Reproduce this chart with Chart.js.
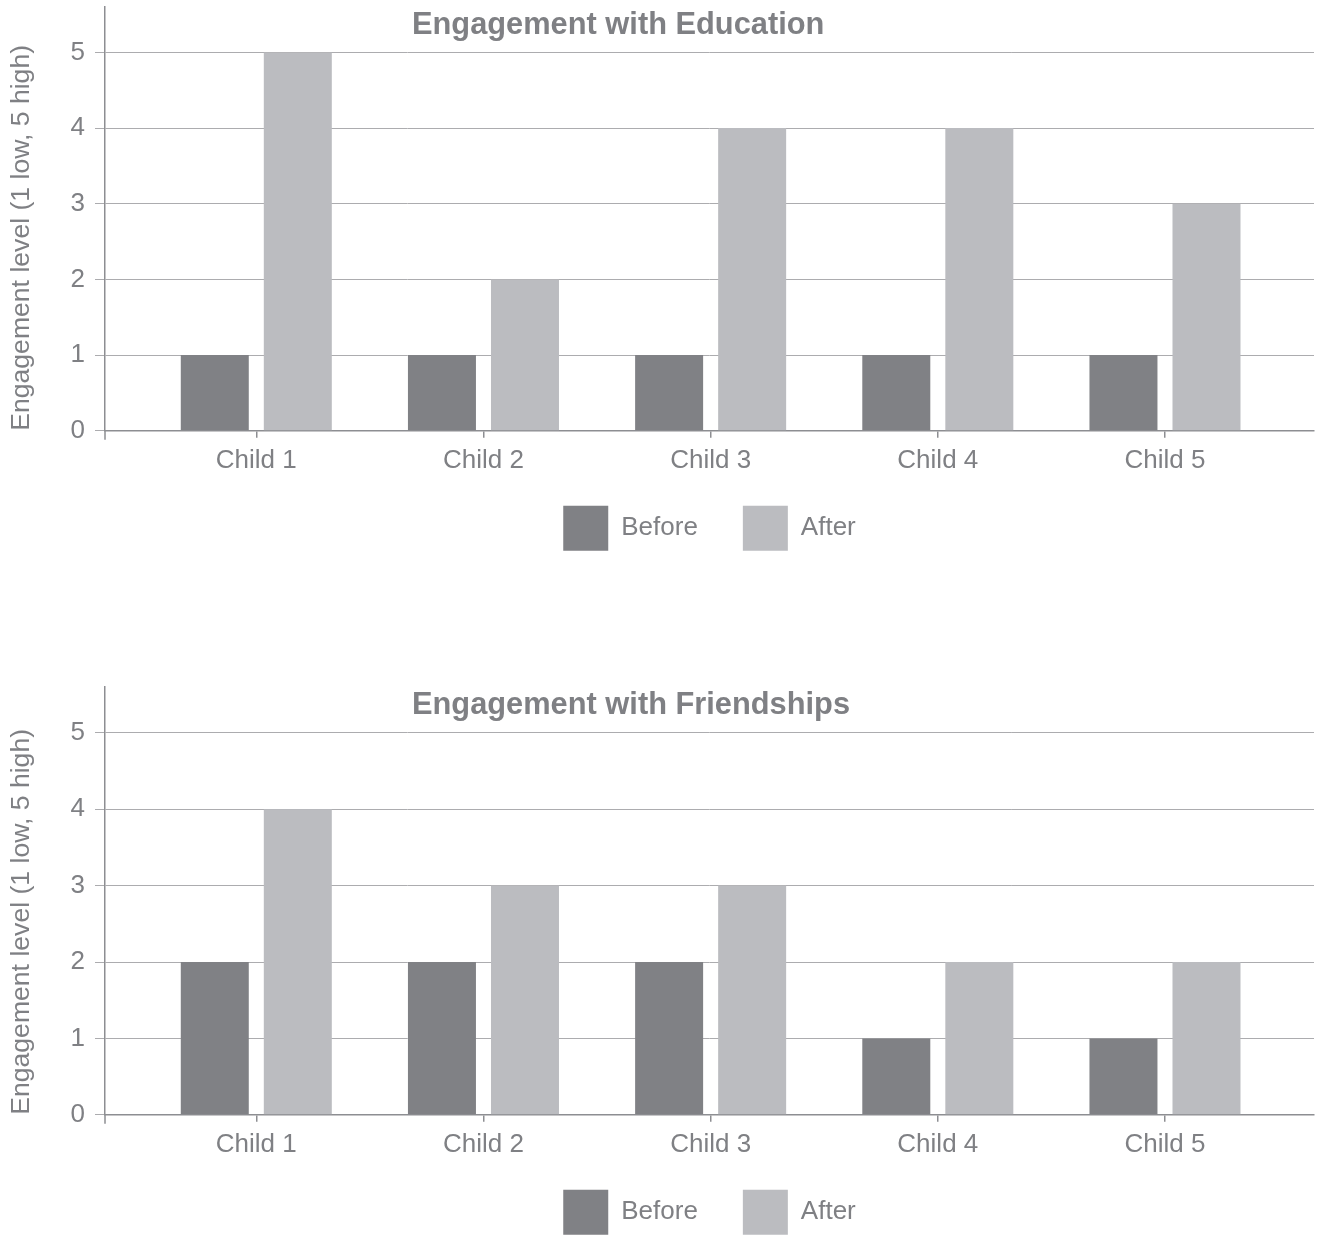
<!DOCTYPE html>
<html>
<head>
<meta charset="utf-8">
<title>Engagement before and after</title>
<script src="https://cdn.jsdelivr.net/npm/chart.js@4.4.1/dist/chart.umd.min.js"></script>
<style>
  html, body { margin: 0; padding: 0; background: #ffffff; overflow: hidden; }
  .panel { position: absolute; left: 0; width: 1317px; }
  #panel-education { top: 0; height: 583px; }
  #panel-friendships { top: 680px; height: 587px; }
</style>
</head>
<body>
<div class="panel" id="panel-education"><canvas id="chart-education"></canvas></div>
<div class="panel" id="panel-friendships"><canvas id="chart-friendships"></canvas></div>
<script>
// ---- data ----
const children = ['Child 1', 'Child 2', 'Child 3', 'Child 4', 'Child 5'];
const seriesNames = ['Before', 'After'];
const educationBefore = [1, 1, 1, 1, 1];
const educationAfter = [5, 2, 4, 4, 3];
const friendshipsBefore = [2, 2, 2, 1, 1];
const friendshipsAfter = [4, 3, 3, 2, 2];
const levelTicks = [0, 1, 2, 3, 4, 5];
const levelAxisTitle = 'Engagement level (1 low, 5 high)';
const educationTitle = 'Engagement with Education';
const friendshipsTitle = 'Engagement with Friendships';

// ---- styling ----
const FONT = "'Liberation Sans', Arial, Helvetica, sans-serif";
const INK = '#7f8084';
const GRID = '#acacaf';
const AXIS = '#8d8e92';
const BEFORE_FILL = '#808185';
const AFTER_FILL = '#bbbcc0';

// Bold panel heading drawn inside the plot area, left aligned.
const panelTitle = {
  id: 'panelTitle',
  afterDraw(chart, args, opts) {
    const ctx = chart.ctx;
    ctx.save();
    ctx.font = 'bold ' + opts.size + 'px ' + FONT;
    ctx.fillStyle = INK;
    ctx.textAlign = 'left';
    ctx.textBaseline = 'alphabetic';
    ctx.fillText(opts.text, opts.x, chart.chartArea.top + opts.baseline);
    ctx.restore();
  }
};

// Short continuation of the value axis below the baseline.
const axisFoot = {
  id: 'axisFoot',
  afterDraw(chart, args, opts) {
    const ctx = chart.ctx;
    const y = chart.scales.y;
    ctx.save();
    ctx.strokeStyle = AXIS;
    ctx.lineWidth = 1.5;
    ctx.beginPath();
    ctx.moveTo(y.right, chart.chartArea.bottom);
    ctx.lineTo(y.right, chart.chartArea.bottom + opts.length);
    ctx.stroke();
    ctx.restore();
  }
};

// Keeps the legend a fixed distance below the plot, tucked closer to the category labels.
const legendGap = {
  id: 'legendGap',
  afterLayout(chart, args, opts) {
    const lg = chart.legend;
    if (!lg) return;
    const d = chart.chartArea.bottom + opts.gap - lg.top;
    lg.top += d;
    lg.bottom += d;
  }
};

function points(values) {
  return values.map((v, i) => ({ x: i, y: v }));
}

function makeChart(canvasId, title, before, after) {
  return new Chart(document.getElementById(canvasId), {
    type: 'bar',
    data: {
      datasets: [
        { label: seriesNames[0], data: points(before), backgroundColor: BEFORE_FILL, borderWidth: 0 },
        { label: seriesNames[1], data: points(after), backgroundColor: AFTER_FILL, borderWidth: 0 }
      ]
    },
    options: {
      responsive: true,
      maintainAspectRatio: false,
      animation: false,
      events: [],
      categoryPercentage: 0.731,
      barPercentage: 0.819,
      layout: { padding: { top: 7, right: 3, left: 0, bottom: 0 } },
      plugins: {
        legend: {
          position: 'bottom',
          fullSize: false,
          labels: {
            boxWidth: 45,
            boxHeight: 45,
            padding: 45,
            color: INK,
            font: { size: 26, family: FONT }
          }
        },
        tooltip: { enabled: false },
        panelTitle: { text: title, x: 412, baseline: 27, size: 30.8 },
        axisFoot: { length: 9 },
        legendGap: { gap: 30 }
      },
      scales: {
        x: {
          type: 'linear',
          min: -0.666,
          max: 4.656,
          offset: false,
          afterBuildTicks: s => { s.ticks = children.map((_, i) => ({ value: i })); },
          afterFit: s => { s.paddingLeft = 0; s.paddingRight = 0; },
          grid: {
            display: true,
            drawOnChartArea: false,
            offset: false,
            tickLength: 7,
            color: AXIS,
            lineWidth: 1.5
          },
          border: { display: true, color: AXIS, width: 1.5 },
          ticks: {
            callback: v => children[v],
            color: INK,
            font: { size: 26, family: FONT },
            padding: 7,
            maxRotation: 0,
            autoSkip: false
          }
        },
        y: {
          min: 0,
          max: 5.6,
          afterBuildTicks: s => { s.ticks = levelTicks.map(v => ({ value: v })); },
          afterFit: s => { s.width = 105; s.paddingTop = 0; s.paddingBottom = 0; },
          grid: { color: GRID, lineWidth: 1, tickLength: 10, tickColor: GRID },
          border: { display: true, color: AXIS, width: 1.5 },
          ticks: {
            color: INK,
            font: { size: 26, family: FONT },
            padding: 10
          },
          title: {
            display: true,
            text: levelAxisTitle,
            align: 'start',
            color: INK,
            font: { size: 26.6, family: FONT },
            padding: { top: 6, bottom: 0 }
          }
        }
      }
    },
    plugins: [panelTitle, axisFoot, legendGap]
  });
}

makeChart('chart-education', educationTitle, educationBefore, educationAfter);
makeChart('chart-friendships', friendshipsTitle, friendshipsBefore, friendshipsAfter);
</script>
</body>
</html>
